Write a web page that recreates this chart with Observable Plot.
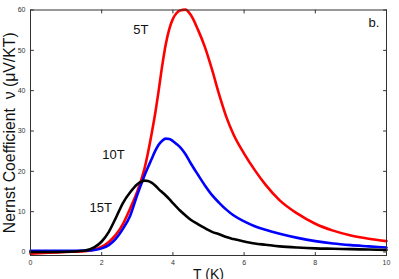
<!DOCTYPE html>
<html>
<head>
<meta charset="utf-8">
<script src="https://cdn.jsdelivr.net/npm/d3@7"></script>
<script src="https://cdn.jsdelivr.net/npm/@observablehq/plot@0.6"></script>
<style>
  html, body { margin: 0; padding: 0; background: #fff; }
  #chart svg { display: block; }
</style>
</head>
<body>
<div id="chart"></div>
<script>
const T = [0,0.5,1,1.5,1.8,2.0,2.2,2.4,2.6,2.8,3.0,3.1,3.2,3.3,3.4,3.5,3.6,3.7,3.8,3.9,4.0,4.1,4.2,4.35,4.5,4.7,4.9,5.1,5.3,5.5,5.7,6.0,6.3,6.6,7.0,7.5,8.0,8.5,9.0,9.5,10];
const v5T  = [-0.4,-0.2,0.0,0.2,0.6,1.3,2.5,4.3,7.0,10.8,15.0,17.6,20.6,24.6,29.2,34.2,40.0,46.2,51.5,55.3,57.8,59.2,59.9,60.1,58.8,55.2,50.8,45.2,39.0,33.5,29.2,24.4,20.3,16.7,12.8,9.5,7.0,5.3,4.1,3.3,2.7];
const v10T = [0.3,0.3,0.3,0.35,0.5,0.9,1.7,3.3,5.8,9.0,14.2,16.6,18.9,21.0,23.0,25.0,26.6,27.6,28.1,28.0,27.5,26.8,26.0,24.3,22.0,19.2,16.5,14.1,12.2,10.5,9.1,7.6,6.4,5.5,4.5,3.5,2.7,2.1,1.7,1.4,1.1];
const v15T = [0.0,0.0,0.05,0.3,1.2,2.6,5.0,8.5,12.2,14.8,16.8,17.4,17.7,17.6,17.2,16.5,15.6,14.8,14.0,13.1,12.1,11.2,10.3,9.1,8.0,6.9,5.9,5.0,4.4,3.7,3.2,2.6,2.1,1.8,1.4,1.1,0.9,0.8,0.7,0.6,0.5];
const seriesNames = ["5T","10T","15T"];
const seriesColors = ["#ff0000","#0000ff","#000000"];
const xTicks = [0,2,4,6,8,10];
const yTicks = [0,10,20,30,40,50,60];
const labelNames = ["5T","10T","15T","b."];
const labelT = [3.1, 2.33, 1.97, 9.65];
const labelV = [55.2, 24.0, 11.0, 56.7];

const seriesValues = [v5T, v10T, v15T];
const data = [];
seriesNames.forEach((s, i) => T.forEach((t, j) => data.push({series: s, T: t, v: seriesValues[i][j]})));
const labels = labelNames.map((n, i) => ({text: n, T: labelT[i], v: labelV[i]}));

const tickShape = {draw(context, l) { context.moveTo(0, 0); context.lineTo(0, -l); }};
const tickOpts = {length: 3, anchor: "start", shape: tickShape, stroke: "#333", strokeWidth: 1};
const yLabel = "Nernst Coefficient  \u03bd (\u03bcV/KT)";

const chart = Plot.plot({
  width: 399,
  height: 279,
  marginLeft: 30,
  marginRight: 13,
  marginTop: 9.5,
  marginBottom: 24,
  style: {fontFamily: "'Liberation Sans', Arial, sans-serif", background: "#fff"},
  x: {domain: [0, 10]},
  y: {domain: [-0.87, 60]},
  color: {domain: seriesNames, range: seriesColors},
  marks: [
    Plot.axisX(xTicks, {tickSize: 0, tickPadding: 5, label: null, fontSize: 7, fill: "#333"}),
    Plot.axisY(yTicks, {tickSize: 0, tickPadding: 5, label: null, fontSize: 7, fill: "#333"}),
    Plot.vector(xTicks, {x: d => d, frameAnchor: "bottom", rotate: 0, ...tickOpts}),
    Plot.vector(xTicks, {x: d => d, frameAnchor: "top", rotate: 180, ...tickOpts}),
    Plot.vector(yTicks, {y: d => d, frameAnchor: "left", rotate: 90, ...tickOpts}),
    Plot.vector(yTicks, {y: d => d, frameAnchor: "right", rotate: -90, ...tickOpts}),
    Plot.line(data, {x: "T", y: "v", z: "series", stroke: "series", curve: "monotone-x", strokeWidth: 2.6}),
    Plot.frame({stroke: "#333", strokeWidth: 1}),
    Plot.text(labels, {x: "T", y: "v", text: "text", fontSize: 13, fill: "#111"}),
    Plot.text(["T (K)"], {frameAnchor: "bottom", dy: 23, fontSize: 14, fill: "#111"}),
    Plot.text([yLabel], {frameAnchor: "left", textAnchor: "middle", rotate: -90, dx: -21, fontSize: 13, fill: "#111"})
  ]
});
document.getElementById("chart").appendChild(chart);
const yl = d3.select(chart).selectAll("text").filter(function() { return this.textContent === yLabel; });
yl.each(function() {
  const L = this.getComputedTextLength();
  if (L > 0) {
    const fs = 13 * 201 / L;
    this.setAttribute("font-size", fs);
    this.style.fontSize = fs + "px";
  }
});
</script>
</body>
</html>
